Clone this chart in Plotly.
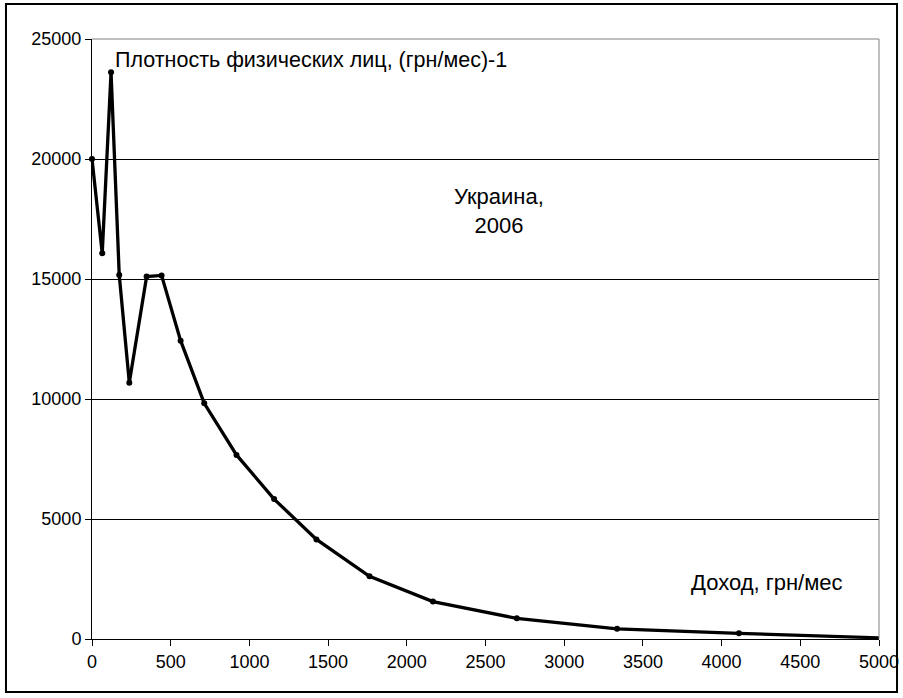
import plotly.graph_objects as go

income = [0, 65, 121, 173, 237, 347, 442, 563, 713, 918, 1157, 1426, 1763, 2166, 2699, 3336, 4110, 5000]
density = [20000, 16070, 23610, 15170, 10680, 15100, 15150, 12430, 9820, 7670, 5830, 4150, 2610, 1560, 860, 425, 235, 50]

x_ticks = list(range(0, 5001, 500))
y_ticks = list(range(0, 25001, 5000))

FONT = "Liberation Sans, Arial, sans-serif"

fig = go.Figure()
fig.add_trace(go.Scatter(x=income, y=density, mode="lines",
                         line=dict(color="black", width=3.3), cliponaxis=False,
                         showlegend=False, hoverinfo="skip"))
fig.add_trace(go.Scatter(x=income[:-1], y=density[:-1], mode="markers",
                         marker=dict(color="black", size=6), cliponaxis=False,
                         showlegend=False))

fig.update_layout(
    width=903, height=698, autosize=False,
    margin=dict(l=92, r=24, t=39, b=59, autoexpand=False),
    paper_bgcolor="white", plot_bgcolor="white",
    font=dict(family=FONT, size=18, color="black"),
    xaxis=dict(range=[0, 5000], tickvals=x_ticks, ticktext=[str(v) for v in x_ticks],
               showgrid=False, zeroline=False, showline=True, linecolor="black", linewidth=1,
               ticks="outside", ticklen=6, tickcolor="black", automargin=False,
               tickfont=dict(size=18)),
    yaxis=dict(range=[0, 25000], tickvals=y_ticks, ticktext=[str(v) for v in y_ticks],
               showgrid=True, gridcolor="black", gridwidth=1, zeroline=False,
               showline=True, linecolor="black", linewidth=1,
               ticks="outside", ticklen=6, tickcolor="black", automargin=False,
               tickfont=dict(size=18)),
)

# plot-area border (gray top and right)
fig.add_shape(type="line", xref="paper", yref="paper", x0=0, x1=1, y0=1, y1=1,
              line=dict(color="#808080", width=1))
fig.add_shape(type="line", xref="paper", yref="paper", x0=1, x1=1, y0=0, y1=1,
              line=dict(color="#808080", width=1))
# outer chart border
fig.add_shape(type="rect", xref="paper", yref="paper",
              x0=-0.1093, x1=1.0229, y0=-0.0883, y1=1.0583,
              line=dict(color="black", width=2))

fig.add_annotation(x=0.0267, y=0.965, xref="paper", yref="paper",
                   text="Плотность физических лиц, (грн/мес)-1", showarrow=False,
                   xanchor="left", yanchor="middle", font=dict(size=21.5))
fig.add_annotation(x=0.517, y=0.713, xref="paper", yref="paper",
                   text="Украина,<br>2006", showarrow=False, align="center",
                   xanchor="center", yanchor="middle", font=dict(size=22))
fig.add_annotation(x=0.9568, y=0.095, xref="paper", yref="paper",
                   text="Доход, грн/мес", showarrow=False,
                   xanchor="right", yanchor="middle", font=dict(size=22))

fig.write_html("out.html", config={"displayModeBar": False, "responsive": False},
               default_width="903px", default_height="698px",
               post_script="document.body.style.margin='0';document.body.style.overflow='hidden';")
